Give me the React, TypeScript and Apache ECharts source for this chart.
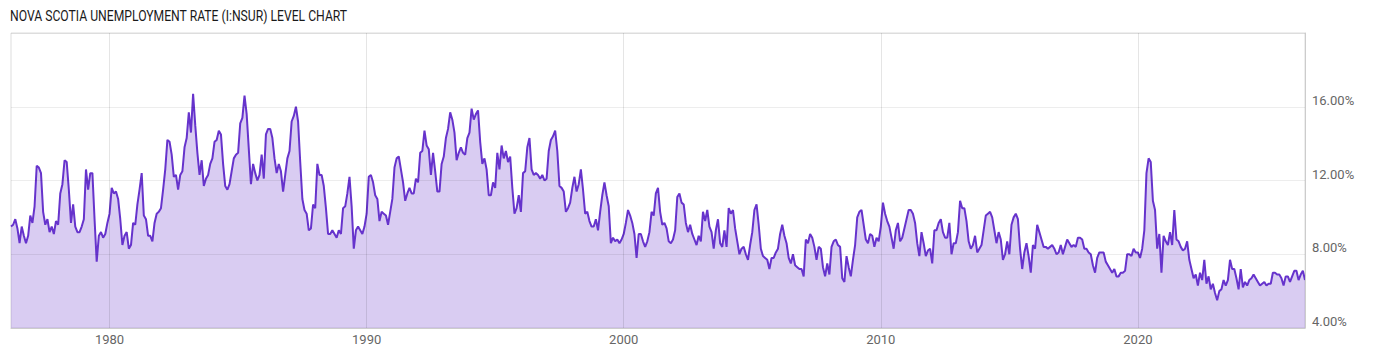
import React, { useEffect, useRef } from "react";
import * as echarts from "echarts";

// Monthly Nova Scotia unemployment rate (%), first month March 1976
const START_YEAR = 1976;
const START_MONTH = 3;

const values1976to1982 = [
  9.5, 9.6, 9.9, 9.4, 8.6, 9.5, 9.0, 8.6, 9.0, 10.1,
  9.7, 10.6, 12.8, 12.7, 12.4, 10.3, 9.6, 9.9, 9.2, 9.5,
  9.1, 9.8, 9.6, 11.3, 11.8, 13.1, 13.0, 11.5, 9.7, 10.7,
  9.5, 9.2, 9.2, 9.5, 9.9, 12.6, 11.5, 12.4, 12.4, 9.9,
  7.6, 9.0, 9.2, 8.9, 9.1, 9.7, 10.2, 11.6, 11.3, 11.4,
  11.0, 9.9, 8.5, 9.0, 9.2, 8.3, 8.5, 9.7, 9.6, 10.7,
  11.5, 12.4, 10.1, 9.9, 9.0, 9.0, 8.7, 9.7, 10.2, 10.3,
  10.5, 11.5, 12.6, 14.2, 14.1, 13.4, 12.2, 12.3,
];
const values1982to1988 = [
  11.5, 12.3, 12.5, 13.8, 14.3, 15.7, 14.6, 16.7, 15.0, 13.5,
  12.3, 13.1, 11.7, 12.1, 12.3, 12.9, 13.2, 14.1, 14.2, 14.7,
  14.5, 12.9, 11.7, 11.5, 11.8, 12.5, 13.2, 13.4, 13.5, 15.1,
  15.4, 16.6, 15.6, 13.7, 11.8, 12.9, 12.4, 12.0, 12.3, 13.4,
  12.1, 14.5, 14.8, 14.8, 14.3, 13.2, 12.4, 12.9, 12.5, 11.4,
  12.3, 13.2, 13.6, 15.2, 15.5, 16.0, 15.2, 13.0, 11.0, 10.4,
  10.2, 9.3, 9.4, 10.7, 10.5, 12.9, 12.3, 12.3, 11.7, 10.5,
  9.1, 9.1, 9.3, 9.1, 8.9, 9.3,
];
const values1989to1995 = [
  9.1, 10.5, 10.6, 11.3, 12.2, 10.6, 8.3, 9.3, 9.5, 9.3,
  9.1, 9.5, 10.2, 12.2, 12.3, 11.9, 11.2, 11.0, 9.8, 10.3,
  10.2, 10.1, 9.6, 10.3, 11.0, 12.7, 13.2, 13.3, 12.6, 11.9,
  10.9, 11.3, 11.6, 11.3, 11.3, 12.1, 11.9, 13.5, 13.6, 14.7,
  13.9, 13.7, 12.3, 13.5, 12.5, 11.4, 11.4, 12.9, 13.3, 14.3,
  14.8, 15.7, 15.3, 14.6, 13.1, 13.5, 13.8, 13.5, 13.4, 14.3,
  14.6, 15.9, 15.3, 15.6, 15.8, 14.1, 12.9, 13.2, 12.6, 11.2,
  11.2, 11.9, 11.6, 13.5, 12.6, 13.9, 13.2,
];
const values1995to2001 = [
  13.6, 13.0, 13.3, 11.6, 10.2, 10.5, 11.2, 10.3, 12.4, 12.5,
  13.8, 14.3, 12.6, 12.3, 12.4, 12.3, 12.1, 12.3, 12.0, 12.1,
  13.6, 14.2, 14.4, 14.7, 13.6, 11.7, 11.6, 11.4, 10.3, 10.5,
  10.8, 11.6, 12.2, 11.4, 11.8, 12.6, 11.5, 10.2, 10.3, 9.8,
  9.5, 9.5, 9.9, 9.3, 10.3, 11.2, 11.9, 11.2, 10.6, 8.6,
  8.9, 8.7, 8.8, 8.6, 8.8, 9.1, 9.7, 10.4, 10.1, 9.7,
  9.1, 7.8, 9.1, 9.1, 8.7, 8.4, 8.7, 9.2, 10.3, 10.1,
  11.3, 11.6, 10.3, 9.6, 9.7, 9.4, 8.7, 8.6,
];
const values2001to2008 = [
  8.8, 9.3, 11.1, 11.3, 10.8, 10.7, 9.7, 9.2, 9.6, 9.1,
  8.8, 8.5, 9.0, 8.7, 10.3, 9.8, 10.4, 9.5, 9.2, 8.3,
  9.3, 9.9, 8.6, 8.4, 9.3, 8.4, 10.5, 10.2, 10.4, 9.4,
  8.7, 8.0, 8.3, 8.4, 8.0, 7.7, 8.5, 9.2, 10.4, 10.7,
  9.6, 8.3, 7.9, 7.8, 7.7, 7.2, 7.8, 7.8, 8.1, 8.3,
  9.1, 9.6, 9.0, 8.6, 7.8, 7.5, 8.0, 7.4, 7.3, 7.2,
  7.2, 6.8, 8.8, 8.6, 9.1, 8.9, 8.4, 7.7, 8.4, 8.3,
  7.3, 6.8, 7.5, 6.9, 8.4, 8.7,
];
const values2008to2014 = [
  8.8, 8.5, 8.4, 6.7, 6.5, 7.9, 7.3, 6.8, 7.7, 8.5,
  10.0, 10.3, 10.4, 9.6, 8.8, 8.6, 9.1, 9.0, 8.4, 8.9,
  8.7, 9.5, 10.8, 10.2, 9.8, 9.5, 8.9, 8.3, 9.3, 9.7,
  8.7, 8.9, 9.4, 9.9, 10.4, 10.4, 10.2, 9.7, 8.6, 7.9,
  9.2, 8.6, 7.9, 8.2, 8.3, 7.5, 9.3, 9.3, 9.7, 9.9,
  9.2, 8.9, 8.9, 9.7, 8.0, 8.6, 8.6, 9.2, 10.9, 10.5,
  10.5, 9.8, 8.7, 8.3, 8.5, 9.0, 8.1, 8.3, 8.5, 9.3,
  10.1, 10.2, 10.3, 10.0, 9.3, 8.6, 9.2,
];
const values2014to2021 = [
  8.8, 7.7, 8.0, 8.7, 8.0, 9.6, 10.0, 10.2, 9.9, 8.3,
  7.2, 8.1, 8.6, 7.9, 7.0, 8.5, 8.3, 9.6, 9.2, 8.8,
  8.4, 8.4, 8.3, 8.4, 8.5, 8.3, 8.0, 8.1, 8.5, 8.0,
  8.4, 8.8, 8.6, 8.4, 8.5, 8.4, 8.9, 8.9, 8.8, 8.3,
  8.3, 8.1, 8.0, 7.4, 7.0, 7.8, 8.1, 8.1, 8.1, 7.6,
  7.4, 7.2, 7.0, 7.2, 6.8, 6.8, 7.0, 7.0, 7.1, 8.0,
  8.0, 7.9, 8.3, 8.1, 8.1, 7.8, 8.3, 9.3, 12.4, 13.2,
  13.0, 10.9, 10.4, 8.3, 9.1, 7.0, 9.0,
];
const values2021to2026 = [
  8.7, 8.5, 9.2, 8.5, 10.4, 8.8, 8.7, 8.4, 8.2, 8.3,
  8.7, 7.7, 7.2, 6.7, 6.9, 6.3, 7.0, 6.6, 7.7, 6.4,
  6.8, 6.1, 6.4, 5.9, 5.5, 6.0, 6.1, 6.6, 6.3, 6.6,
  7.7, 7.2, 7.2, 6.7, 6.1, 7.2, 6.2, 6.5, 6.3, 6.6,
  6.7, 6.9, 6.7, 6.5, 6.3, 6.4, 6.5, 6.3, 6.4, 6.4,
  7.0, 7.0, 6.9, 6.9, 6.7, 6.3, 6.8, 6.8, 6.5, 6.8,
  7.1, 7.1, 6.6, 6.9, 7.1, 6.6,
];

const values = [
  ...values1976to1982,
  ...values1982to1988,
  ...values1989to1995,
  ...values1995to2001,
  ...values2001to2008,
  ...values2008to2014,
  ...values2014to2021,
  ...values2021to2026,
];

const categories = values.map((_, i) => {
  const mi = START_MONTH - 1 + i;
  const y = START_YEAR + Math.floor(mi / 12);
  const m = (mi % 12) + 1;
  return `${y}-${m < 10 ? "0" + m : m}`;
});

const yTicks = [4, 8, 12, 16, 20];
const TITLE = "NOVA SCOTIA UNEMPLOYMENT RATE (I:NSUR) LEVEL CHART";

const LINE = "#6633cc";
const FONT = "Roboto, 'Noto Sans', sans-serif";

const isDecade = (_i: number, v: string) =>
  v.endsWith("-01") && Number(v.slice(0, 4)) % 10 === 0;

export default function App() {
  const ref = useRef<HTMLDivElement>(null);
  useEffect(() => {
    if (!ref.current) return;
    const chart = echarts.init(ref.current, null, { renderer: "svg" });
    chart.setOption({
      animation: false,
      backgroundColor: "#ffffff",
      graphic: [
        {
          type: "text",
          x: 10,
          y: 9,
          scaleX: 0.87,
          style: {
            text: TITLE,
            font: `14px ${FONT}`,
            fill: "#1a1a1a",
          },
        },
      ],
      grid: {
        left: 11,
        right: 95,
        top: 33,
        bottom: 29,
        show: true,
        borderColor: "#dddddd",
        borderWidth: 1,
      },
      xAxis: {
        type: "category",
        data: categories,
        boundaryGap: false,
        z: 5,
        axisLine: { show: true, lineStyle: { color: "#cccccc", width: 1 } },
        axisTick: { show: false },
        axisLabel: {
          interval: isDecade,
          formatter: (v: string) => v.slice(0, 4),
          color: "#666666",
          fontSize: 13,
          fontFamily: FONT,
          margin: 5,
        },
        splitLine: {
          show: true,
          interval: isDecade,
          lineStyle: { color: "rgba(0,0,0,0.1)", width: 1 },
        },
      },
      yAxis: {
        type: "value",
        position: "right",
        min: yTicks[0],
        max: yTicks[yTicks.length - 1],
        interval: 4,
        z: 5,
        axisLine: { show: true, lineStyle: { color: "#cccccc", width: 1 } },
        axisTick: { show: false },
        axisLabel: {
          formatter: (v: number) =>
            v === yTicks[yTicks.length - 1] ? "" : v.toFixed(2) + "%",
          color: "#666666",
          fontSize: 13,
          fontFamily: FONT,
          verticalAlign: "bottom",
          margin: 7,
        },
        splitLine: {
          show: true,
          lineStyle: { color: "rgba(0,0,0,0.07)", width: 1 },
        },
      },
      series: [
        {
          type: "line",
          data: values,
          showSymbol: false,
          symbol: "none",
          lineStyle: { color: LINE, width: 2 },
          itemStyle: { color: LINE },
          areaStyle: { color: LINE, opacity: 0.25, origin: "start" },
          z: 2,
        },
      ],
    });
    return () => chart.dispose();
  }, []);
  return (
    <div
      ref={ref}
      style={{ position: "fixed", left: 0, top: 0, width: 1400, height: 357 }}
    />
  );
}
